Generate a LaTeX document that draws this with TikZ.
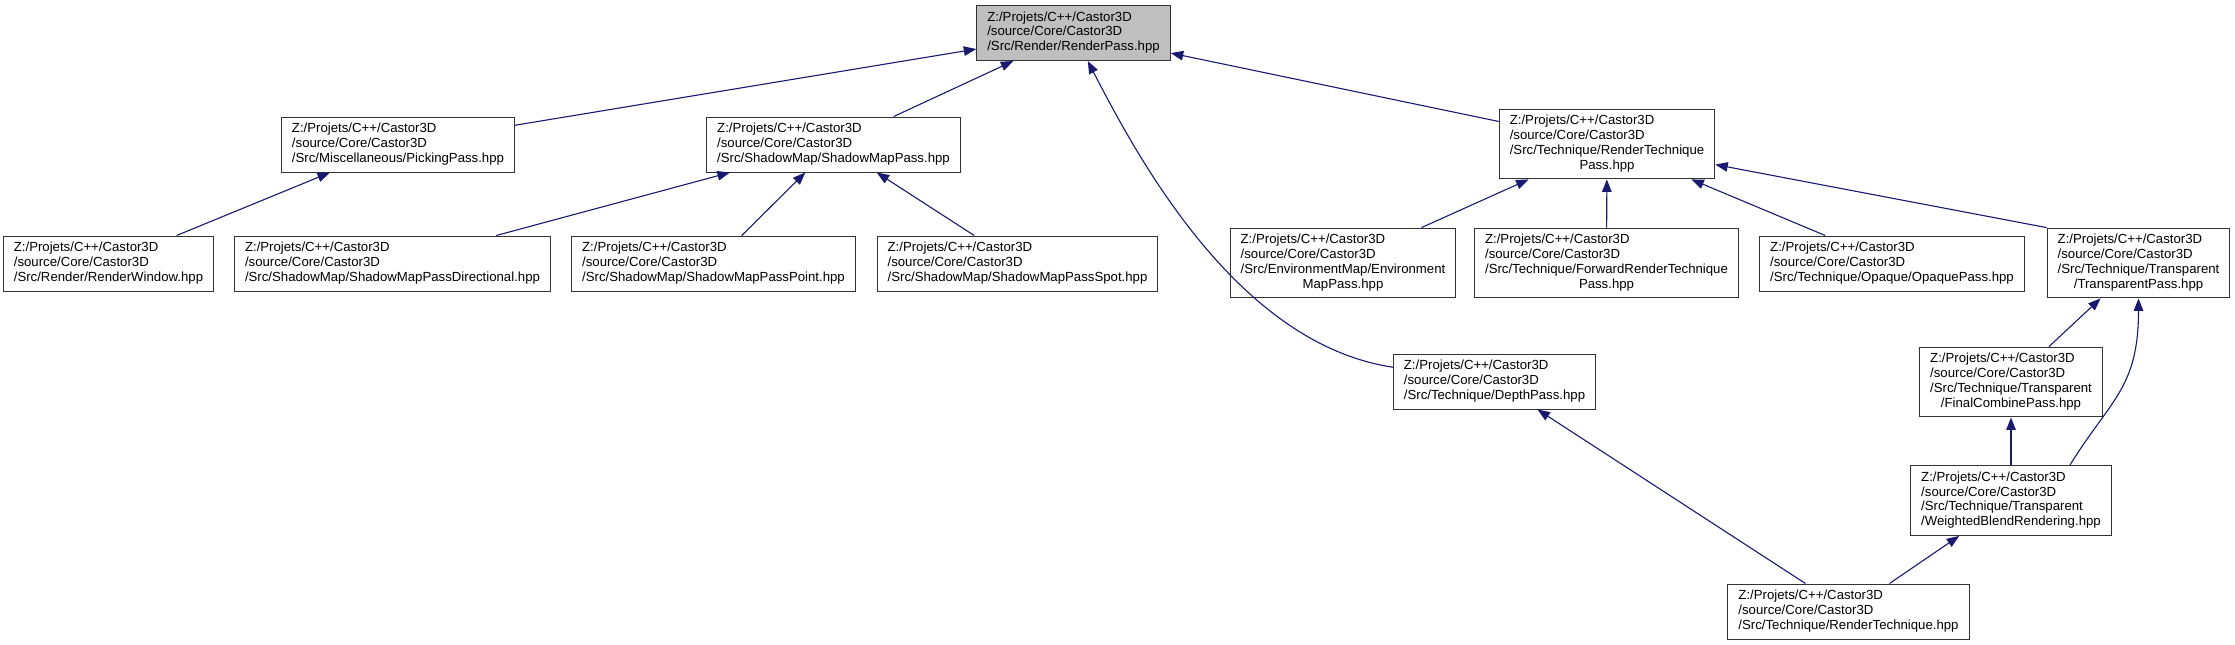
\documentclass[tikz,border=0pt]{standalone}
\usepackage{fontspec}
\setmainfont{Liberation Sans}
\usetikzlibrary{arrows.meta}
\definecolor{edgeblue}{HTML}{191970}
\definecolor{hlgray}{HTML}{BFBFBF}
\newcommand{\fthree}[1]{\begin{tabular}{@{}l@{}}Z:/Projets/C++/Castor3D\\/source/Core/Castor3D\\#1\end{tabular}}
\newcommand{\ffour}[2]{\begin{tabular}{@{}l@{}}Z:/Projets/C++/Castor3D\\/source/Core/Castor3D\\#1\\\multicolumn{1}{@{}c@{}}{#2}\end{tabular}}
\begin{document}
\begin{tikzpicture}[x=1pt,y=-1pt,
  hdr/.style={draw=black!80,line width=1pt,fill=white,inner xsep=10.5pt,inner ysep=5.3pt,
    font=\fontsize{13.2}{14.8}\selectfont},
  dep/.style={draw=edgeblue,line width=1.1pt,-{Triangle[length=12.5pt,width=9.5pt]}}]
\useasboundingbox (0,0) rectangle (2235,645);
\node[hdr,fill=hlgray] (rp) at (1073.5,33) {\fthree{/Src/Render/RenderPass.hpp}};
\node[hdr] (pick) at (398,144.5) {\fthree{/Src/Miscellaneous/PickingPass.hpp}};
\node[hdr] (smp) at (833.5,144.5) {\fthree{/Src/ShadowMap/ShadowMapPass.hpp}};
\node[hdr] (rtp) at (1607,144) {\ffour{/Src/Technique/RenderTechnique}{Pass.hpp}};
\node[hdr] (rwin) at (108.5,263.5) {\fthree{/Src/Render/RenderWindow.hpp}};
\node[hdr] (smdir) at (392.5,263.5) {\fthree{/Src/ShadowMap/ShadowMapPassDirectional.hpp}};
\node[hdr] (smpt) at (713.5,263.5) {\fthree{/Src/ShadowMap/ShadowMapPassPoint.hpp}};
\node[hdr] (smspot) at (1017.5,263.5) {\fthree{/Src/ShadowMap/ShadowMapPassSpot.hpp}};
\node[hdr] (env) at (1343,263) {\ffour{/Src/EnvironmentMap/Environment}{MapPass.hpp}};
\node[hdr] (fwd) at (1606.5,263) {\ffour{/Src/Technique/ForwardRenderTechnique}{Pass.hpp}};
\node[hdr] (opq) at (1892,263.5) {\fthree{/Src/Technique/Opaque/OpaquePass.hpp}};
\node[hdr] (trp) at (2138.5,263) {\ffour{/Src/Technique/Transparent}{/TransparentPass.hpp}};
\node[hdr] (depth) at (1494.5,381.5) {\fthree{/Src/Technique/DepthPass.hpp}};
\node[hdr] (fcp) at (2011,382) {\ffour{/Src/Technique/Transparent}{/FinalCombinePass.hpp}};
\node[hdr] (wbr) at (2011,500.5) {\ffour{/Src/Technique/Transparent}{/WeightedBlendRendering.hpp}};
\node[hdr] (rt) at (1848.5,611.5) {\fthree{/Src/Technique/RenderTechnique.hpp}};
\draw[dep] (pick) -- (rp);
\draw[dep] (smp) -- (rp);
\draw[dep] (rtp) -- (rp);
\draw[dep] (depth.172) .. controls +(-153,-23) and +(53,103) .. (rp.-63);
\draw[dep] (rwin) -- (pick);
\draw[dep] (smdir) -- (smp);
\draw[dep] (smpt) -- (smp);
\draw[dep] (smspot) -- (smp);
\draw[dep] (env) -- (rtp);
\draw[dep] (fwd) -- (rtp);
\draw[dep] (opq) -- (rtp);
\draw[dep] (trp.north west) -- (rtp);
\draw[dep] (fcp) -- (trp);
\draw[dep] (wbr) -- (fcp);
\draw[dep] (wbr.31) .. controls +(40,-65) and +(0,90) .. (trp.south);
\draw[dep] (rt) -- (depth);
\draw[dep] (rt) -- (wbr);
\end{tikzpicture}
\end{document}
